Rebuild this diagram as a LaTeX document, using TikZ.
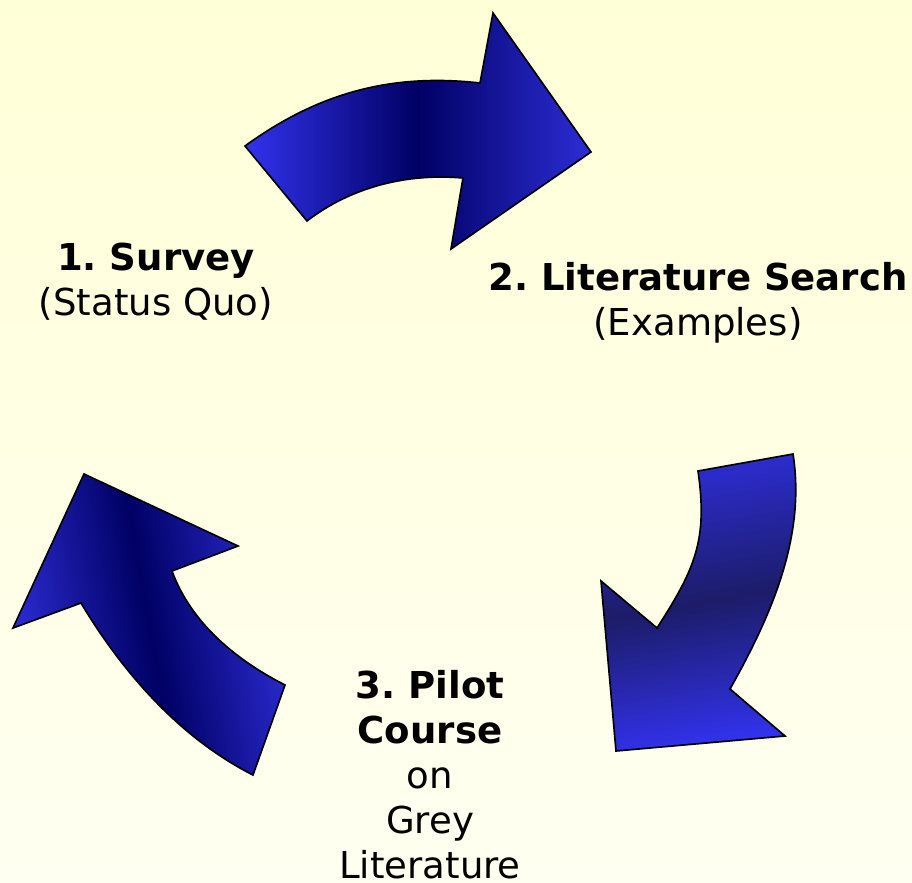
\documentclass[tikz,border=0pt]{standalone}
\usepackage{fontspec}
\setmainfont{DejaVu Sans}
\usepackage{xcolor}
\usepackage{tikz}
\definecolor{brightblue}{RGB}{50,50,238}
\definecolor{navyblue}{RGB}{0,0,100}
\definecolor{dimnavy}{RGB}{28,28,104}
\definecolor{creamtop}{RGB}{255,255,215}
\definecolor{creambottom}{RGB}{255,255,241}
\tikzset{bigarrow/.style={draw=black, line width=0.95pt},
	steplabel/.style={align=center, inner sep=0pt, font=\fontsize{21.1}{25.6}\selectfont\frenchspacing}}

\begin{document}
\begin{tikzpicture}[x=0.02cm, y=-0.02cm]
	\fill[top color=creamtop, bottom color=creambottom] (0,0) rectangle (912,882);
	\useasboundingbox (0,0) rectangle (912,882);
	
	% survey -> search
	\draw[bigarrow, left color=brightblue, right color=brightblue!90!black, middle color=navyblue] (245,146) -- (307,221) .. controls (351,187) and (407,173) .. (463,178) -- (451,249) -- (591,152) -- (493,13) -- (480,83) .. controls (391,73) and (318,93) .. (245,146) -- cycle;
	
	% search -> pilot
	\draw[bigarrow, top color=brightblue!90!black, bottom color=brightblue, middle color=dimnavy, shading angle=10] (698,471) -- (793,454) .. controls (806,537) and (771,616) .. (730,689) -- (785,736) -- (616,751) -- (601,581) -- (657,628) .. controls (695,569) and (708,540) .. (698,471) -- cycle;
	
	% pilot -> survey
	\draw[bigarrow, left color=brightblue!90!black, right color=brightblue!90!black, middle color=navyblue, shading angle=100] (84,474) -- (238,546) -- (172,571) .. controls (191,623) and (236,660) .. (285,685) -- (253,775) .. controls (180,738) and (123,673) .. (81,603) -- (13,628) -- cycle;
	
	\node[steplabel] (survey) at (156,282) {\textbf{1. Survey}\\(Status Quo)};
	
	\node[steplabel] (search) at (698,303) {\textbf{2. Literature Search}\\(Examples)};
	
	\node[steplabel] (pilot) at (430,775) {\textbf{3. Pilot}\\\textbf{Course}\\on\\Grey\\Literature};
\end{tikzpicture}
\end{document}
